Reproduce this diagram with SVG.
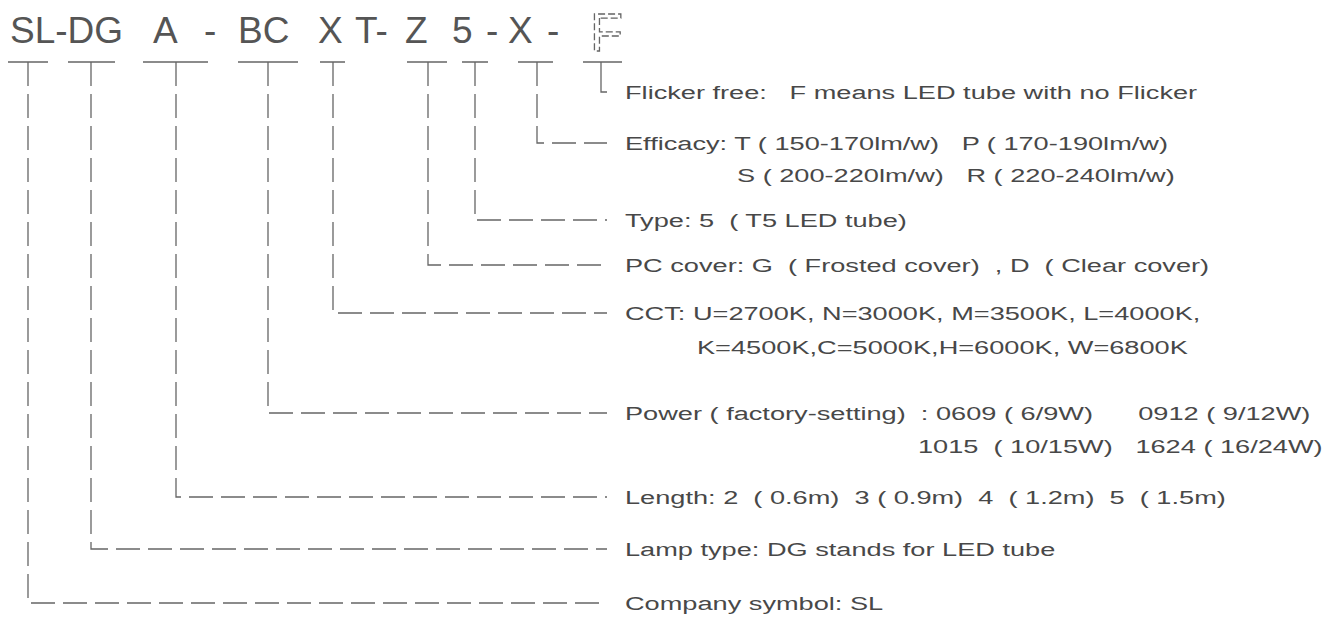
<svg xmlns="http://www.w3.org/2000/svg" width="1333" height="640" viewBox="0 0 1333 640">
<style>
.code{font-family:"Liberation Sans",Arial,sans-serif;font-size:37px;fill:#555}
.lbl{font-family:"Liberation Sans",Arial,sans-serif;font-size:19px;fill:#484848}
.bar{stroke:#666;stroke-width:1.3;fill:none}
.con{stroke:#666;stroke-width:1.3;fill:none;stroke-dasharray:24 8}
.ff{font-family:"Liberation Sans",Arial,sans-serif;font-size:54px;fill:none;stroke:#666;stroke-width:1.3;stroke-dasharray:7 3}
</style>
<rect width="1333" height="640" fill="#fff"/>
<g id="code">
<text class="code" x="10" y="43">SL-DG</text>
<text class="code" x="153" y="43">A</text>
<text class="code" x="204" y="43">-</text>
<text class="code" x="238" y="43">BC</text>
<text class="code" x="318" y="43">X</text>
<text class="code" x="355" y="43">T-</text>
<text class="code" x="405" y="43">Z</text>
<text class="code" x="452" y="43">5</text>
<text class="code" x="486" y="43">-</text>
<text class="code" x="508" y="43">X</text>
<text class="code" x="547" y="43">-</text>
<text class="ff" x="590" y="51">F</text>
</g>
<g id="bars">
<path class="bar" d="M8 62H48M68 62H115M143 62H208M238 62H298M320 62H345M407 62H447M462 62H488M518 62H553M583 62H622"/>
</g>
<g id="connectors">
<path class="bar" d="M601 62V92H607"/>
<path class="con" d="M537 62V143H607"/>
<path class="con" d="M475 62V220H607"/>
<path class="con" d="M428 62V265H607"/>
<path class="con" d="M333 62V313H607"/>
<path class="con" d="M268 62V413H607"/>
<path class="con" d="M176 62V497H607"/>
<path class="con" d="M91 62V549H607"/>
<path class="con" d="M28 62V603H607"/>
</g>
<g id="flicker"><text class="lbl" transform="translate(625 99) scale(1.43 1)" xml:space="preserve">Flicker free:   F means LED tube with no Flicker</text></g>
<g id="efficacy">
<text class="lbl" transform="translate(625 150) scale(1.43 1)" xml:space="preserve">Efficacy: T ( 150-170lm/w)   P ( 170-190lm/w)</text>
<text class="lbl" transform="translate(737 182) scale(1.43 1)" xml:space="preserve">S ( 200-220lm/w)   R ( 220-240lm/w)</text>
</g>
<g id="type"><text class="lbl" transform="translate(625 227) scale(1.43 1)" xml:space="preserve">Type: 5  ( T5 LED tube)</text></g>
<g id="pccover"><text class="lbl" transform="translate(625 272) scale(1.43 1)" xml:space="preserve">PC cover: G  ( Frosted cover)  , D  ( Clear cover)</text></g>
<g id="cct">
<text class="lbl" transform="translate(625 320) scale(1.43 1)" xml:space="preserve">CCT: U=2700K, N=3000K, M=3500K, L=4000K,</text>
<text class="lbl" transform="translate(697 354) scale(1.43 1)" xml:space="preserve">K=4500K,C=5000K,H=6000K, W=6800K</text>
</g>
<g id="power">
<text class="lbl" transform="translate(625 420) scale(1.43 1)" xml:space="preserve">Power ( factory-setting)  : 0609 ( 6/9W)      0912 ( 9/12W)</text>
<text class="lbl" transform="translate(918 453) scale(1.43 1)" xml:space="preserve">1015  ( 10/15W)   1624 ( 16/24W)</text>
</g>
<g id="length"><text class="lbl" transform="translate(625 504) scale(1.43 1)" xml:space="preserve">Length: 2  ( 0.6m)  3 ( 0.9m)  4  ( 1.2m)  5  ( 1.5m)</text></g>
<g id="lamp"><text class="lbl" transform="translate(625 556) scale(1.43 1)" xml:space="preserve">Lamp type: DG stands for LED tube</text></g>
<g id="company"><text class="lbl" transform="translate(625 610) scale(1.43 1)" xml:space="preserve">Company symbol: SL</text></g>
</svg>
